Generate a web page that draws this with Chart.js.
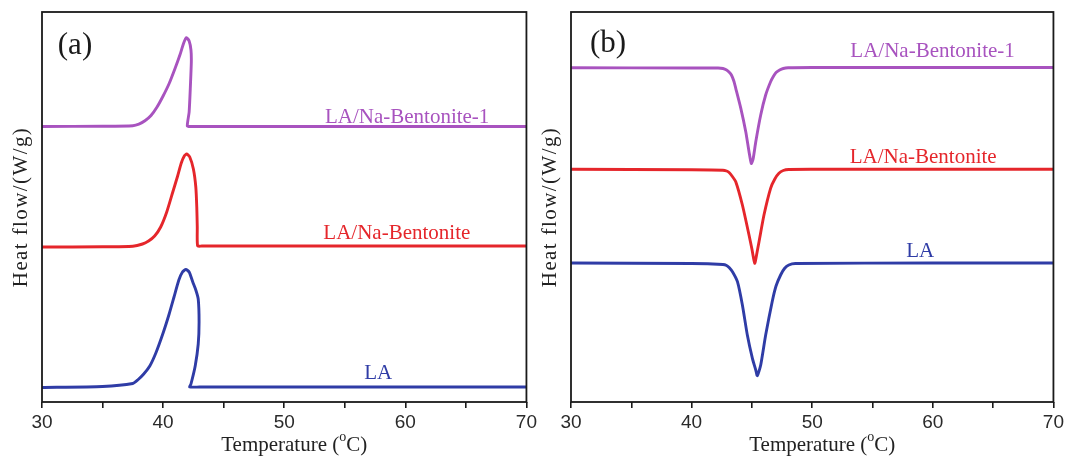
<!DOCTYPE html>
<html>
<head>
<meta charset="utf-8">
<script src="https://cdn.jsdelivr.net/npm/chart.js@4.4.0/dist/chart.umd.min.js"></script>
<style>
  html, body { margin: 0; padding: 0; background: #fff; }
  #wrap { position: relative; width: 1067px; height: 464px; }
  #chartA { position: absolute; left: 0; top: 0; }
  #chartB { position: absolute; left: 540px; top: 0; }
</style>
</head>
<body>
<div id="wrap">
  <canvas id="chartA" width="540" height="464"></canvas>
  <canvas id="chartB" width="527" height="464"></canvas>
</div>
<script>
// tick labels and series names
const tempTicks = [30, 40, 50, 60, 70];
const seriesNames = ['LA/Na-Bentonite-1', 'LA/Na-Bentonite', 'LA'];
const seriesColors = ['#A853BF', '#E5262B', '#2F3CA6'];

// (a) cooling curves: temperature (°C) and heat flow (offset units)
const coolNaB1_T = [30, 35, 37.5, 38.0, 38.5, 39.0, 39.5, 40.0, 40.5, 41.0, 41.4, 41.7, 41.93, 42.15, 42.3, 42.33, 42.25, 42.15, 42.0, 42.3, 50, 60, 70];
const coolNaB1_HF = [27.55, 27.58, 27.63, 27.78, 28.12, 28.65, 29.5, 30.6, 31.85, 33.4, 34.75, 35.9, 36.43, 36.1, 35.2, 34.0, 31.5, 29.0, 27.6, 27.55, 27.55, 27.55, 27.55];

const coolNaB_T = [30, 35, 37.5, 38.3, 38.8, 39.3, 39.8, 40.3, 40.8, 41.2, 41.5, 41.75, 41.95, 42.2, 42.5, 42.7, 42.78, 42.82, 42.85, 43.2, 50, 60, 70];
const coolNaB_HF = [15.5, 15.52, 15.58, 15.8, 16.1, 16.6, 17.5, 19.0, 21.0, 22.6, 23.9, 24.6, 24.8, 24.5, 23.3, 21.5, 19.5, 17.5, 15.6, 15.6, 15.6, 15.6, 15.6];

const coolLA_T = [30, 35, 37.5, 37.9, 38.4, 38.9, 39.4, 40.0, 40.5, 40.9, 41.3, 41.6, 41.88, 42.15, 42.45, 42.7, 42.9, 42.97, 42.9, 42.65, 42.3, 42.2, 43, 50, 60, 70];
const coolLA_HF = [1.45, 1.55, 1.85, 2.2, 2.8, 3.6, 4.9, 6.9, 8.8, 10.5, 12.2, 13.0, 13.25, 13.0, 12.0, 11.2, 10.3, 8.0, 5.8, 3.6, 1.8, 1.5, 1.5, 1.5, 1.5, 1.5];

// (b) heating curves
const heatNaB1_T = [30, 40, 42.2, 42.6, 42.9, 43.1, 43.3, 43.5, 43.66, 44.08, 44.49, 44.76, 44.95, 45.1, 45.32, 45.73, 46.14, 46.55, 46.8, 47.0, 47.3, 47.6, 48.0, 50, 60, 70];
const heatNaB1_HF = [33.42, 33.4, 33.4, 33.35, 33.2, 33.0, 32.7, 32.1, 31.37, 29.37, 27.03, 25.03, 23.85, 24.3, 26.03, 28.7, 30.7, 32.03, 32.6, 32.95, 33.2, 33.35, 33.42, 33.45, 33.45, 33.45];

const heatNaB_T = [30, 40, 42.6, 42.9, 43.11, 43.35, 43.66, 44.21, 44.76, 45.0, 45.23, 45.4, 45.59, 46.0, 46.55, 46.9, 47.24, 47.6, 48.06, 50, 60, 70];
const heatNaB_HF = [23.27, 23.22, 23.18, 23.1, 22.95, 22.6, 22.03, 19.7, 16.7, 15.3, 13.87, 14.8, 16.03, 18.7, 21.37, 22.3, 22.87, 23.15, 23.25, 23.27, 23.27, 23.27];

const heatLA_T = [30, 40, 42.6, 42.9, 43.11, 43.4, 43.8, 44.21, 44.62, 45.04, 45.32, 45.45, 45.73, 46.14, 46.68, 47.0, 47.38, 47.7, 48.06, 48.6, 60, 70];
const heatLA_HF = [13.9, 13.85, 13.75, 13.65, 13.45, 13.0, 12.03, 9.7, 6.7, 4.37, 3.2, 2.63, 3.7, 6.7, 10.03, 11.6, 12.7, 13.35, 13.7, 13.85, 13.9, 13.9];

const zip = (t, hf) => t.map((v, i) => ({ x: v, y: hf[i] }));

// frame, panel letter, curve labels and axis titles
const panelDecor = {
  id: 'panelDecor',
  afterDatasetsDraw(chart, args, opts) {
    const { ctx, chartArea: a, scales: { x, y } } = chart;
    ctx.save();
    ctx.strokeStyle = '#1a1a1a';
    ctx.lineWidth = 1.8;
    ctx.strokeRect(a.left, a.top, a.right - a.left, a.bottom - a.top);

    ctx.textAlign = 'center';
    ctx.textBaseline = 'middle';
    ctx.fillStyle = '#1a1a1a';
    ctx.font = '31px "Liberation Serif", serif';
    ctx.fillText(opts.letter, a.left + opts.letterDx, a.top + opts.letterDy);

    ctx.font = '21px "Liberation Serif", serif';
    opts.labels.forEach((l, i) => {
      ctx.fillStyle = seriesColors[i];
      ctx.fillText(seriesNames[i], x.getPixelForValue(l[0]), y.getPixelForValue(l[1]));
    });

    // x title with superscript o
    ctx.fillStyle = '#222';
    ctx.textAlign = 'left';
    const big = '21px "Liberation Serif", serif', small = '14px "Liberation Serif", serif';
    ctx.font = big;
    const w1 = ctx.measureText('Temperature (').width, w3 = ctx.measureText('C)').width;
    ctx.font = small;
    const w2 = ctx.measureText('o').width;
    let tx = (a.left + a.right) / 2 + 10 - (w1 + w2 + w3) / 2;
    const ty = 445;
    ctx.font = big; ctx.fillText('Temperature (', tx, ty); tx += w1;
    ctx.font = small; ctx.fillText('o', tx, ty - 8); tx += w2;
    ctx.font = big; ctx.fillText('C)', tx, ty);

    // y title
    ctx.translate(opts.yTitleX, (a.top + a.bottom) / 2);
    ctx.rotate(-Math.PI / 2);
    ctx.textAlign = 'center';
    ctx.letterSpacing = '1.4px';
    ctx.fillText('Heat flow/(W/g)', 0, 0);
    ctx.restore();
  }
};

function makePanel(id, series, cfg) {
  return new Chart(document.getElementById(id), {
    type: 'line',
    data: {
      datasets: series.map((s, i) => ({
        label: seriesNames[i],
        data: zip(s[0], s[1]),
        borderColor: seriesColors[i],
        borderWidth: 2.9,
        pointRadius: 0,
        tension: 0.2,
        fill: false
      }))
    },
    options: {
      responsive: false,
      animation: false,
      layout: { padding: { left: 0, top: 12, right: cfg.padRight, bottom: 0 } },
      plugins: {
        legend: { display: false },
        tooltip: { enabled: false },
        panelDecor: cfg.decor
      },
      scales: {
        x: {
          type: 'linear', min: 30, max: 70,
          ticks: {
            stepSize: 5, autoSkip: false, maxRotation: 0, padding: 3, color: '#2a2a2a',
            font: { family: '"Liberation Sans", Arial, sans-serif', size: 19 },
            callback: v => tempTicks.includes(v) ? v : ''
          },
          grid: { drawOnChartArea: false, drawTicks: true, tickLength: 6, color: '#1a1a1a', lineWidth: 1.6 },
          border: { display: false },
          afterFit: s => { s.height = 62; }
        },
        y: {
          min: 0, max: 39,
          ticks: { display: false },
          grid: { display: false },
          border: { display: false },
          afterFit: s => { s.width = cfg.plotLeft; }
        }
      }
    },
    plugins: [panelDecor]
  });
}

makePanel('chartA',
  [[coolNaB1_T, coolNaB1_HF], [coolNaB_T, coolNaB_HF], [coolLA_T, coolLA_HF]],
  { padRight: 12, plotLeft: 42,
    decor: { letter: '(a)', letterDx: 33, letterDy: 34, yTitleX: 21,
             labels: [[60.15, 28.5], [59.3, 16.9], [57.76, 2.85]] } });

makePanel('chartB',
  [[heatNaB1_T, heatNaB1_HF], [heatNaB_T, heatNaB_HF], [heatLA_T, heatLA_HF]],
  { padRight: 11, plotLeft: 31,
    decor: { letter: '(b)', letterDx: 37, letterDy: 32, yTitleX: 10,
             labels: [[59.98, 35.1], [59.2, 24.45], [58.95, 15.1]] } });
</script>
</body>
</html>
